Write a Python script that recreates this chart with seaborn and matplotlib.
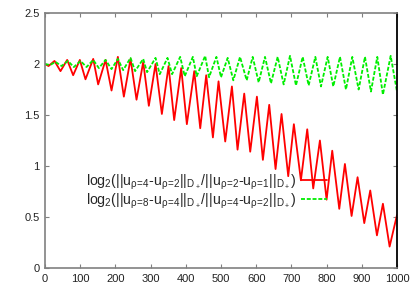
import matplotlib
matplotlib.use("Agg")
import matplotlib.pyplot as plt
import seaborn as sns
import pandas as pd

red_x = [0, 10, 27, 44, 63, 80, 99, 115, 137, 151, 172, 189, 207, 224, 243, 260, 279, 295, 314, 332,
         351, 367, 387, 403, 424, 441, 458, 477, 493, 512, 531, 547, 566, 583, 602, 619, 637, 655, 672, 691,
         707, 727, 745, 762, 781, 800, 816, 836, 852, 871, 888, 907, 924, 943, 960, 979, 1000]
red_y = [2.00, 1.98, 2.03, 1.93, 2.04, 1.89, 2.04, 1.85, 2.05, 1.80, 2.04, 1.74, 2.07, 1.68, 2.05, 1.65, 2.02, 1.59, 2.00, 1.51,
         1.98, 1.45, 1.96, 1.41, 1.93, 1.37, 1.89, 1.28, 1.83, 1.24, 1.78, 1.16, 1.71, 1.14, 1.68, 1.06, 1.60, 0.97, 1.51, 0.90,
         1.41, 0.86, 1.36, 0.78, 1.25, 0.67, 1.15, 0.58, 1.02, 0.51, 0.89, 0.44, 0.76, 0.32, 0.63, 0.21, 0.52]

green_x = [0, 14, 30, 47, 65, 82, 101, 118, 137, 153, 172, 189, 207, 222, 243, 256, 279, 290, 314, 326,
           348, 361, 384, 397, 420, 431, 455, 466, 487, 500, 519, 535, 554, 573, 590, 607, 625, 642, 661, 678,
           696, 713, 732, 749, 768, 784, 803, 819, 838, 855, 873, 891, 909, 926, 944, 960, 982, 1000]
green_y = [2.00, 1.99, 2.02, 1.98, 2.03, 1.97, 2.03, 1.97, 2.04, 1.96, 2.04, 1.95, 2.05, 1.94, 2.06, 1.93, 2.05, 1.92, 2.06, 1.90,
           2.06, 1.90, 2.07, 1.88, 2.07, 1.88, 2.08, 1.87, 2.07, 1.87, 2.06, 1.84, 2.07, 1.84, 2.07, 1.82, 2.07, 1.81, 2.07, 1.80,
           2.08, 1.79, 2.07, 1.79, 2.07, 1.78, 2.07, 1.78, 2.07, 1.75, 2.07, 1.75, 2.07, 1.73, 2.07, 1.70, 2.08, 1.73]

x_ticks = [0, 100, 200, 300, 400, 500, 600, 700, 800, 900, 1000]
y_ticks = [0, 0.5, 1, 1.5, 2, 2.5]
y_tick_labels = ["0", "0.5", "1", "1.5", "2", "2.5"]

label_red = r"log$_2$(||u$_{ρ\!=\!4}$-u$_{ρ\!=\!2}$||$_{D_+}$/||u$_{ρ\!=\!2}$-u$_{ρ\!=\!1}$||$_{D_+}$)"
label_green = r"log$_2$(||u$_{ρ\!=\!8}$-u$_{ρ\!=\!4}$||$_{D_+}$/||u$_{ρ\!=\!4}$-u$_{ρ\!=\!2}$||$_{D_+}$)"

sns.set_style("ticks")
plt.rcParams["font.family"] = ["Liberation Sans", "DejaVu Sans"]
plt.rcParams["mathtext.fontset"] = "custom"
plt.rcParams["mathtext.rm"] = "Liberation Sans"
plt.rcParams["mathtext.it"] = "Liberation Sans"
plt.rcParams["mathtext.bf"] = "Liberation Sans:bold"

fig = plt.figure(figsize=(4.15, 2.91), dpi=100)
ax = fig.add_axes([45 / 415, 23 / 291, 352 / 415, 255 / 291])

df_red = pd.DataFrame({"x": red_x, "y": red_y})
df_green = pd.DataFrame({"x": green_x, "y": green_y})

sns.lineplot(data=df_red, x="x", y="y", ax=ax, color="#ff0000", lw=1.3,
             estimator=None, sort=False, label=label_red)
sns.lineplot(data=df_green, x="x", y="y", ax=ax, color="#00ee00", lw=1.3,
             estimator=None, sort=False, label=label_green)
ax.lines[1].set_dashes([2.2, 1.0])

ax.set_xlim(0, 1000)
ax.set_ylim(0, 2.5)
ax.set_xticks(x_ticks)
ax.set_xticklabels([str(t) for t in x_ticks])
ax.set_yticks(y_ticks)
ax.set_yticklabels(y_tick_labels)
ax.set_xlabel("")
ax.set_ylabel("")

for side in ["left", "bottom", "top"]:
    ax.spines[side].set_color("#808080")
    ax.spines[side].set_linewidth(1.2)
ax.spines["right"].set_color("black")
ax.spines["right"].set_linewidth(1.3)
ax.spines["top"].set_visible(True)
ax.spines["right"].set_visible(True)

ax.tick_params(axis="both", which="major", direction="in", length=3, width=0.8,
               color="#808080", labelsize=8, labelcolor="#222222",
               top=True, right=True, pad=4)

leg = ax.legend(loc="center right", bbox_to_anchor=(0.80, 0.300), frameon=False,
                markerfirst=False, fontsize=10.2, handlelength=1.8, handletextpad=0.35,
                labelspacing=0.0, borderpad=0, borderaxespad=0)

fig.savefig("out.png", dpi=100)
